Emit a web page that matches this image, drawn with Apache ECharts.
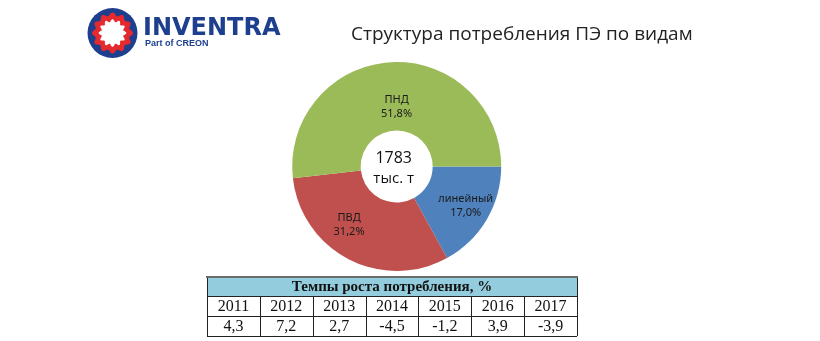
<!DOCTYPE html>
<html>
<head>
<meta charset="utf-8">
<script src="https://cdn.jsdelivr.net/npm/echarts@6/dist/echarts.min.js"></script>
<style>
  html, body { margin: 0; padding: 0; background: #ffffff; }
  #chart { width: 820px; height: 341px; }
</style>
</head>
<body>
<div id="chart"></div>
<script>
// Consumption structure by PE type (share, %)
const categories = ['линейный', 'ПВД', 'ПНД'];
const shares = [17.0, 31.2, 51.8];
const sliceColors = ['#4F81BD', '#C0504D', '#9BBB59'];
const totalValue = '1783';
const totalUnit = 'тыс. т';

// Consumption growth rates table
const tableTitle = 'Темпы роста потребления, %';
const years = ['2011', '2012', '2013', '2014', '2015', '2016', '2017'];
const growth = [4.3, 7.2, 2.7, -4.5, -1.2, 3.9, -3.9];

// label nudges (px) for the inside labels
const labelNudge = [[6, 2], [-14, -7], [4, 13]];

const fmt = v => v.toFixed(1).replace('.', ',');

const chart = echarts.init(document.getElementById('chart'), null, { renderer: 'canvas' });

const pieCenter = [396.7, 166.5];

// table geometry
const tX = 207, tY = 277, tW = 370, hH = 19, rH = 20;
const colW = tW / years.length;

const tableEls = [];
// header background
tableEls.push({ type: 'rect', shape: { x: tX, y: tY, width: tW, height: hH }, style: { fill: '#93CDDD' } });
tableEls.push({ type: 'text', x: tX + tW / 2, y: tY + hH / 2 + 1,
  style: { text: tableTitle, font: 'bold 15px "Liberation Serif"', fill: '#111', align: 'center', verticalAlign: 'middle' } });
years.forEach((y, i) => {
  const cx = tX + colW * i + colW / 2;
  tableEls.push({ type: 'text', x: cx, y: tY + hH + rH / 2 + 1,
    style: { text: y, font: '16px "Liberation Serif"', fill: '#111', align: 'center', verticalAlign: 'middle' } });
  tableEls.push({ type: 'text', x: cx, y: tY + hH + rH + rH / 2 + 1,
    style: { text: fmt(growth[i]), font: '16px "Liberation Serif"', fill: '#111', align: 'center', verticalAlign: 'middle' } });
});
// grid lines
const lineStyle = { stroke: '#222', lineWidth: 1 };
[tY + hH, tY + hH + rH, tY + hH + 2 * rH].forEach(yy => {
  tableEls.push({ type: 'line', shape: { x1: tX, y1: yy + 0.5, x2: tX + tW, y2: yy + 0.5 }, style: lineStyle });
});
for (let i = 0; i <= years.length; i++) {
  const xx = Math.round(tX + colW * i) + 0.5;
  tableEls.push({ type: 'line', shape: { x1: xx, y1: (i === 0 || i === years.length) ? tY : tY + hH, x2: xx, y2: tY + hH + 2 * rH }, style: lineStyle });
}
tableEls.push({ type: 'line', shape: { x1: tX - 1, y1: tY, x2: tX + tW + 1, y2: tY }, style: { stroke: '#6b6b6b', lineWidth: 2 } });

// logo pieces
function gearPoints(cx, cy, rBase, amp, teeth, n) {
  const pts = [];
  for (let k = 0; k < n; k++) {
    const a = (k / n) * Math.PI * 2;
    const r = rBase + amp * Math.cos(teeth * a);
    pts.push([cx + r * Math.cos(a), cy + r * Math.sin(a)]);
  }
  return pts;
}
const logoC = [112.5, 33];
const logoEls = [
  { type: 'circle', shape: { cx: logoC[0], cy: logoC[1], r: 25 }, style: { fill: '#1D3F8E' } },
  { type: 'polygon', shape: { points: gearPoints(logoC[0], logoC[1], 19, 1.6, 12, 240) }, style: { fill: '#E42A2F' } },
  { type: 'polygon', shape: { points: gearPoints(logoC[0], logoC[1], 12.5, 1.4, 12, 240) }, style: { fill: '#ffffff' } },
  { type: 'text', x: 143, y: 29, style: { text: 'INVENTRA', font: 'bold 24px "DejaVu Sans"', fill: '#1D3F8E', verticalAlign: 'middle' } },
  { type: 'text', x: 145, y: 44, style: { text: 'Part of CREON', font: 'bold 9px "Liberation Sans"', fill: '#1D3F8E', verticalAlign: 'middle' } }
];

chart.setOption({
  animation: false,
  backgroundColor: '#ffffff',
  title: {
    text: 'Структура потребления ПЭ по видам',
    left: 346, top: 20,
    textStyle: { fontFamily: '"Open Sans"', fontSize: 19, fontWeight: 'normal', color: '#222' }
  },
  graphic: [
    ...logoEls,
    { type: 'text', x: pieCenter[0] - 3, y: pieCenter[1] - 8,
      style: { text: totalValue, font: '16px "Open Sans"', fill: '#111', align: 'center', verticalAlign: 'middle' } },
    { type: 'text', x: pieCenter[0] - 3, y: pieCenter[1] + 12,
      style: { text: totalUnit, font: '15px "Open Sans"', fill: '#111', align: 'center', verticalAlign: 'middle' } },
    ...tableEls
  ],
  series: [{
    type: 'pie',
    center: pieCenter,
    radius: [36, 104.5],
    startAngle: 0,
    clockwise: true,
    avoidLabelOverlap: false,
    label: {
      show: true,
      position: 'inside',
      formatter: p => p.name + '\n' + fmt(p.value) + '%',
      fontFamily: '"Noto Sans"',
      fontSize: 11,
      lineHeight: 14,
      color: '#1a1a1a'
    },
    labelLayout: p => ({ dx: labelNudge[p.dataIndex][0], dy: labelNudge[p.dataIndex][1] }),
    labelLine: { show: false },
    emphasis: { disabled: true },
    itemStyle: { borderWidth: 0 },
    data: categories.map((c, i) => ({ name: c, value: shares[i], itemStyle: { color: sliceColors[i] } }))
  }]
});
</script>
</body>
</html>
